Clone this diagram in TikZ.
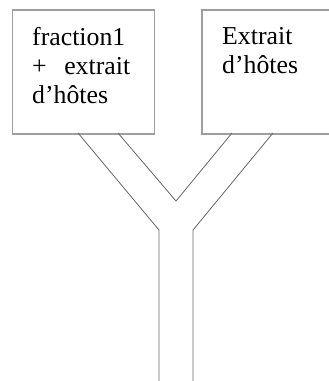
\documentclass[tikz,border=0pt]{standalone}
\usepackage{fontspec}
\setmainfont{Liberation Serif}
\begin{document}
\begin{tikzpicture}[
    x=1pt, y=-1pt,
    every node/.style={font=\fontsize{25.8pt}{29pt}\selectfont, inner sep=0pt},
    box/.style={rectangle, draw=black!38, line width=1.6pt, anchor=north west},
    txt/.style={anchor=north west, align=left},
    pipe/.style={draw=black!60, line width=0.8pt}
]
\clip (0,0) rectangle (329,381);
\fill[white] (0,0) rectangle (329,381);
\node[box, minimum width=142pt, minimum height=124pt] (lbox) at (11.5,9) {};
\node[box, minimum width=160pt, minimum height=124pt] (rbox) at (201,9) {};
\node[txt, text width=98pt] (ltxt) at (32,27.5)
    {fraction1\\\makebox[98pt]{+\hfill extrait}\\d’hôtes};
\node[txt] (rtxt) at (222,27.5) {Extrait\\d’hôtes};
% the Y pipe
\coordinate (lo) at (78,133);
\coordinate (li) at (118,133);
\coordinate (ri) at (232,133);
\coordinate (ro) at (273,133);
\coordinate (mid) at (176,201);
\coordinate (jl) at (159,230);
\coordinate (jr) at (193,230);
\coordinate (bl) at (159,381);
\coordinate (br) at (193,381);
\draw[pipe] (lo) -- (jl) -- (bl);
\draw[pipe] (ro) -- (jr) -- (br);
\draw[pipe] (li) -- (mid) -- (ri);
\end{tikzpicture}
\end{document}
